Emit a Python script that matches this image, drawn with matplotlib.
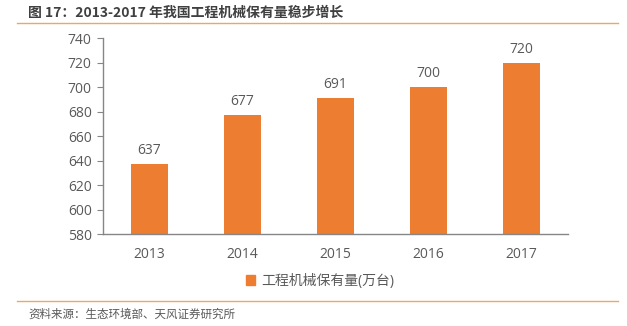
import matplotlib.pyplot as plt
from matplotlib.lines import Line2D
from matplotlib.patches import Patch

plt.rcParams['font.family'] = ['Open Sans', 'Noto Sans CJK SC', 'DejaVu Sans']

years = ['2013', '2014', '2015', '2016', '2017']
stock = [637, 677, 691, 700, 720]
yticks = [580, 600, 620, 640, 660, 680, 700, 720, 740]

bar_color = '#ED7D31'
text_color = '#595959'
axis_color = '#868686'
rule_color = '#F0A468'
cjk = ['Noto Sans CJK SC', 'DejaVu Sans']

fig = plt.figure(figsize=(6.27, 3.26), dpi=100)
ax = fig.add_axes([0.164, 0.282, 0.742, 0.601])

x = range(len(years))
ax.bar(x, stock, width=0.40, color=bar_color, zorder=2)
for xi, v in zip(x, stock):
    ax.text(xi, v + 5, str(v), ha='center', va='bottom', fontsize=10, color=text_color)

ax.set_xlim(-0.5, len(years) - 0.5)
ax.set_ylim(580, 740)
ax.set_yticks(yticks)
ax.set_xticks(list(x))
ax.set_xticklabels(years)
ax.tick_params(axis='y', length=4, color=axis_color, labelcolor=text_color, labelsize=10, pad=4)
ax.tick_params(axis='x', length=0, labelcolor=text_color, labelsize=10, pad=9)
for s in ['top', 'right']:
    ax.spines[s].set_visible(False)
for s in ['left', 'bottom']:
    ax.spines[s].set_color(axis_color)
    ax.spines[s].set_linewidth(1)

fig.legend(handles=[Patch(color=bar_color, label='工程机械保有量(万台)')],
           loc='center', bbox_to_anchor=(0.51, 0.138), frameon=False,
           fontsize=10, handlelength=0.7, handleheight=0.7, handletextpad=0.4,
           labelcolor=text_color)

# header and footer
fig.text(0.045, 0.96, '图 17：2013-2017 年我国工程机械保有量稳步增长', fontsize=10,
         color='#404040', va='center', ha='left', fontweight='bold', family=cjk)
fig.add_artist(Line2D([0.027, 0.986], [0.929, 0.929], color=rule_color, lw=1))
fig.add_artist(Line2D([0.027, 0.986], [0.077, 0.077], color=rule_color, lw=1))
fig.text(0.045, 0.037, '资料来源：生态环境部、天风证券研究所', fontsize=8.3,
         color=text_color, va='center', ha='left', family=cjk)

fig.savefig('out.png', dpi=100)
